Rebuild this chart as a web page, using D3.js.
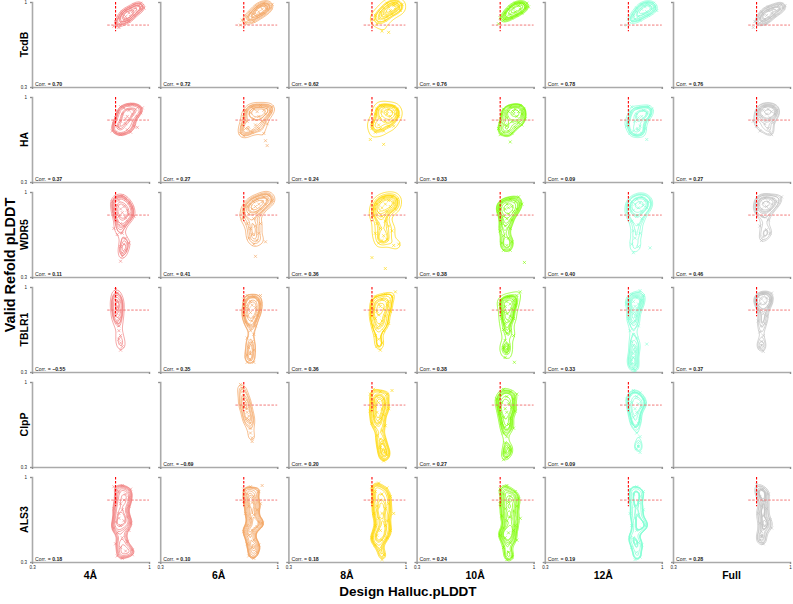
<!DOCTYPE html>
<html><head><meta charset="utf-8">
<script src="https://cdn.jsdelivr.net/npm/d3@7"></script>
<style>body{margin:0;background:#fff}svg{display:block}</style>
</head><body><svg id="c" width="793" height="604"></svg>
<script>
// ---------------- data ----------------
const proteins = ["TcdB","HA","WDR5","TBLR1","ClpP","ALS3"];
const cutoffs = ["4Å","6Å","8Å","10Å","12Å","Full"];
const palette = ["#f08080","#f4a460","#ffd700","#7cfc00","#7fffd4","#c0c0c0"];
const axisTicks = [0.3, 1];
const refDesign = 0.80;   // reference design pLDDT (vertical dashed line)
const refRefold = 0.81;   // reference refold pLDDT (horizontal dashed line)

const corrTcdB = [0.70,0.72,0.62,0.76,0.78,0.76];
const corrHA   = [0.37,0.27,0.24,0.33,0.09,0.27];
const corrWDR5 = [0.11,0.41,0.36,0.38,0.40,0.46];
const corrTBLR1= [-0.55,0.35,0.36,0.38,0.33,0.37];
const corrClpP = [null,-0.69,0.20,0.27,0.09,null];
const corrALS3 = [0.18,0.10,0.18,0.24,0.19,0.28];

const ptsTcdB = [
 [[0.79,0.80],[0.80,0.84],[0.81,0.81],[0.82,0.87],[0.83,0.83],[0.84,0.90],[0.85,0.85],[0.86,0.88],[0.86,0.93],[0.87,0.86],[0.88,0.91],[0.89,0.88],[0.89,0.95],[0.90,0.92],[0.91,0.89],[0.92,0.95],[0.93,0.92],[0.94,0.97],[0.95,0.94],[0.96,0.97],[0.97,0.95],[0.88,0.84],[0.91,0.98],[0.84,0.92],[0.82,0.79],[0.95,0.99]],
 [[0.78,0.81],[0.79,0.85],[0.81,0.83],[0.82,0.88],[0.83,0.85],[0.84,0.91],[0.85,0.87],[0.86,0.90],[0.87,0.94],[0.88,0.88],[0.89,0.92],[0.90,0.96],[0.90,0.90],[0.91,0.94],[0.92,0.91],[0.93,0.97],[0.94,0.94],[0.95,0.98],[0.96,0.95],[0.97,0.98],[0.86,0.84],[0.92,0.99],[0.88,0.96]],
 [[0.81,0.85],[0.82,0.89],[0.84,0.86],[0.85,0.92],[0.86,0.89],[0.87,0.95],[0.88,0.91],[0.89,0.88],[0.90,0.96],[0.91,0.93],[0.92,0.90],[0.93,0.97],[0.94,0.94],[0.95,0.99],[0.96,0.96],[0.97,0.93],[0.98,0.98],[0.89,0.99],[0.86,0.76],[0.90,0.75],[0.83,0.82],[0.93,0.99],[0.88,0.85]],
 [[0.79,0.82],[0.80,0.87],[0.82,0.85],[0.83,0.91],[0.84,0.88],[0.85,0.94],[0.86,0.90],[0.87,0.87],[0.88,0.95],[0.89,0.92],[0.90,0.89],[0.91,0.97],[0.92,0.94],[0.93,0.91],[0.94,0.98],[0.95,0.95],[0.96,0.99],[0.97,0.96],[0.89,0.99],[0.86,0.96],[0.83,0.86],[0.92,0.99]],
 [[0.79,0.81],[0.80,0.86],[0.82,0.84],[0.83,0.89],[0.84,0.86],[0.85,0.92],[0.86,0.88],[0.87,0.85],[0.88,0.94],[0.89,0.90],[0.90,0.96],[0.91,0.92],[0.92,0.89],[0.93,0.97],[0.94,0.94],[0.95,0.99],[0.96,0.96],[0.97,0.93],[0.88,0.98],[0.85,0.95],[0.91,0.99]],
 [[0.78,0.79],[0.79,0.84],[0.81,0.82],[0.82,0.87],[0.83,0.84],[0.84,0.90],[0.85,0.86],[0.86,0.89],[0.87,0.93],[0.88,0.87],[0.89,0.91],[0.90,0.95],[0.91,0.89],[0.92,0.93],[0.93,0.97],[0.94,0.94],[0.95,0.98],[0.96,0.95],[0.97,0.97],[0.87,0.96],[0.83,0.92],[0.86,0.82]]
];
const ptsHA = [
 [[0.78,0.72],[0.79,0.78],[0.80,0.83],[0.81,0.88],[0.82,0.75],[0.83,0.80],[0.84,0.86],[0.85,0.91],[0.85,0.70],[0.86,0.78],[0.87,0.84],[0.88,0.89],[0.88,0.93],[0.89,0.81],[0.90,0.86],[0.91,0.76],[0.92,0.90],[0.93,0.84],[0.94,0.92],[0.95,0.87],[0.96,0.91],[0.87,0.73],[0.83,0.92],[0.90,0.94],[0.86,0.82],[0.80,0.71],[0.83,0.69],[0.89,0.71],[0.93,0.75],[0.81,0.76]],
 [[0.78,0.70],[0.79,0.77],[0.80,0.84],[0.81,0.89],[0.82,0.80],[0.83,0.73],[0.84,0.87],[0.85,0.92],[0.86,0.82],[0.87,0.77],[0.88,0.88],[0.89,0.84],[0.90,0.93],[0.91,0.80],[0.92,0.89],[0.93,0.86],[0.94,0.91],[0.96,0.88],[0.97,0.92],[0.93,0.64],[0.94,0.60],[0.92,0.70],[0.86,0.90],[0.81,0.74],[0.85,0.71],[0.89,0.74],[0.80,0.68],[0.94,0.78]],
 [[0.80,0.74],[0.81,0.80],[0.82,0.86],[0.83,0.90],[0.84,0.77],[0.85,0.83],[0.86,0.88],[0.87,0.92],[0.88,0.80],[0.89,0.86],[0.90,0.90],[0.91,0.84],[0.92,0.88],[0.93,0.92],[0.94,0.86],[0.95,0.90],[0.96,0.84],[0.90,0.76],[0.87,0.72],[0.85,0.93],[0.79,0.65],[0.87,0.61],[0.89,0.88],[0.92,0.80],[0.82,0.71],[0.85,0.74],[0.93,0.76],[0.80,0.78]],
 [[0.79,0.74],[0.80,0.80],[0.81,0.86],[0.82,0.90],[0.83,0.77],[0.84,0.83],[0.85,0.88],[0.86,0.92],[0.87,0.80],[0.88,0.86],[0.89,0.90],[0.90,0.84],[0.91,0.88],[0.92,0.93],[0.93,0.86],[0.94,0.90],[0.95,0.82],[0.89,0.75],[0.85,0.72],[0.80,0.69],[0.86,0.63],[0.88,0.88],[0.91,0.79],[0.82,0.71],[0.87,0.70],[0.93,0.77],[0.84,0.76]],
 [[0.79,0.76],[0.80,0.82],[0.81,0.88],[0.82,0.92],[0.83,0.72],[0.84,0.80],[0.85,0.86],[0.86,0.91],[0.87,0.76],[0.88,0.84],[0.89,0.89],[0.90,0.81],[0.91,0.87],[0.92,0.92],[0.93,0.85],[0.94,0.90],[0.84,0.69],[0.88,0.70],[0.91,0.65],[0.86,0.83],[0.81,0.70],[0.86,0.73],[0.90,0.74],[0.80,0.79]],
 [[0.78,0.80],[0.80,0.86],[0.82,0.90],[0.83,0.84],[0.84,0.89],[0.85,0.92],[0.86,0.86],[0.87,0.90],[0.88,0.83],[0.89,0.88],[0.90,0.92],[0.91,0.86],[0.80,0.76],[0.87,0.74],[0.88,0.71],[0.92,0.89],[0.82,0.72],[0.85,0.78],[0.89,0.69],[0.90,0.79]]
];
const ptsWDR5 = [
 [[0.78,0.92],[0.80,0.96],[0.82,0.93],[0.84,0.97],[0.86,0.94],[0.88,0.91],[0.79,0.86],[0.81,0.89],[0.83,0.86],[0.85,0.88],[0.87,0.85],[0.80,0.82],[0.82,0.80],[0.84,0.83],[0.86,0.79],[0.88,0.82],[0.90,0.87],[0.81,0.76],[0.83,0.74],[0.85,0.72],[0.87,0.76],[0.79,0.70],[0.84,0.66],[0.86,0.62],[0.88,0.58],[0.83,0.55],[0.86,0.52],[0.84,0.47],[0.83,0.43],[0.81,0.65],[0.91,0.80],[0.85,0.57],[0.84,0.50]],
 [[0.79,0.78],[0.80,0.84],[0.82,0.88],[0.83,0.82],[0.84,0.90],[0.85,0.86],[0.86,0.92],[0.87,0.88],[0.88,0.94],[0.89,0.90],[0.90,0.86],[0.91,0.92],[0.92,0.96],[0.93,0.90],[0.94,0.94],[0.95,0.97],[0.88,0.83],[0.86,0.78],[0.82,0.74],[0.84,0.70],[0.87,0.72],[0.90,0.74],[0.85,0.65],[0.89,0.66],[0.83,0.62],[0.88,0.60],[0.93,0.59],[0.87,0.47],[0.86,0.57],[0.97,0.93]],
 [[0.81,0.80],[0.82,0.86],[0.83,0.90],[0.84,0.83],[0.85,0.92],[0.86,0.87],[0.87,0.95],[0.88,0.90],[0.89,0.84],[0.90,0.93],[0.91,0.88],[0.92,0.96],[0.93,0.91],[0.94,0.86],[0.95,0.94],[0.86,0.80],[0.88,0.76],[0.83,0.74],[0.85,0.70],[0.90,0.72],[0.82,0.66],[0.87,0.64],[0.92,0.68],[0.86,0.60],[0.93,0.56],[0.96,0.57],[0.80,0.46],[0.88,0.37],[0.84,0.58],[0.89,0.61]],
 [[0.79,0.84],[0.80,0.88],[0.81,0.92],[0.82,0.80],[0.83,0.86],[0.84,0.90],[0.85,0.82],[0.86,0.94],[0.87,0.88],[0.88,0.84],[0.89,0.92],[0.90,0.86],[0.91,0.96],[0.93,0.90],[0.84,0.78],[0.87,0.77],[0.81,0.74],[0.83,0.72],[0.86,0.70],[0.80,0.68],[0.82,0.64],[0.85,0.62],[0.81,0.58],[0.84,0.56],[0.87,0.59],[0.82,0.52],[0.86,0.52],[0.945,0.42],[0.85,0.87]],
 [[0.80,0.82],[0.81,0.88],[0.82,0.92],[0.83,0.85],[0.84,0.90],[0.85,0.94],[0.86,0.87],[0.87,0.91],[0.88,0.84],[0.89,0.89],[0.90,0.93],[0.91,0.87],[0.92,0.92],[0.85,0.80],[0.88,0.78],[0.82,0.76],[0.86,0.73],[0.83,0.68],[0.87,0.66],[0.84,0.62],[0.82,0.57],[0.86,0.55],[0.83,0.50],[0.93,0.54],[0.88,0.96]],
 [[0.80,0.84],[0.81,0.90],[0.82,0.94],[0.83,0.86],[0.84,0.91],[0.85,0.95],[0.86,0.88],[0.87,0.92],[0.88,0.85],[0.89,0.90],[0.90,0.94],[0.92,0.92],[0.84,0.80],[0.87,0.77],[0.82,0.72],[0.86,0.69],[0.84,0.63],[0.88,0.66],[0.83,0.60],[0.95,0.96]]
];
const ptsTBLR1 = [
 [[0.80,0.98],[0.81,0.95],[0.80,0.92],[0.81,0.89],[0.80,0.86],[0.81,0.83],[0.82,0.80],[0.81,0.78],[0.80,0.76],[0.82,0.74],[0.81,0.71],[0.82,0.68],[0.82,0.64],[0.83,0.60],[0.82,0.57],[0.83,0.54],[0.84,0.51],[0.83,0.48],[0.81,0.84],[0.82,0.88]],
 [[0.80,0.90],[0.82,0.93],[0.84,0.88],[0.86,0.92],[0.88,0.89],[0.90,0.86],[0.81,0.84],[0.83,0.82],[0.85,0.85],[0.87,0.83],[0.89,0.80],[0.80,0.78],[0.82,0.76],[0.84,0.79],[0.86,0.75],[0.88,0.77],[0.81,0.71],[0.83,0.69],[0.85,0.72],[0.87,0.68],[0.84,0.64],[0.86,0.61],[0.82,0.58],[0.85,0.55],[0.83,0.50],[0.86,0.48],[0.82,0.44],[0.84,0.40],[0.82,0.38],[0.86,0.38],[0.90,0.93],[0.84,0.53],[0.84,0.45]],
 [[0.80,0.88],[0.82,0.92],[0.84,0.86],[0.86,0.90],[0.88,0.94],[0.90,0.88],[0.92,0.92],[0.81,0.82],[0.83,0.80],[0.85,0.84],[0.87,0.82],[0.89,0.85],[0.91,0.80],[0.80,0.76],[0.82,0.74],[0.84,0.77],[0.86,0.72],[0.88,0.76],[0.81,0.68],[0.83,0.66],[0.85,0.69],[0.87,0.64],[0.82,0.60],[0.84,0.57],[0.86,0.54],[0.83,0.51],[0.85,0.48],[0.90,0.70],[0.94,0.96]],
 [[0.80,0.86],[0.81,0.90],[0.83,0.84],[0.84,0.88],[0.85,0.92],[0.86,0.86],[0.87,0.82],[0.88,0.89],[0.89,0.85],[0.90,0.93],[0.82,0.80],[0.84,0.78],[0.86,0.76],[0.81,0.74],[0.83,0.70],[0.85,0.72],[0.88,0.74],[0.82,0.65],[0.84,0.62],[0.86,0.64],[0.88,0.60],[0.83,0.56],[0.85,0.52],[0.82,0.50],[0.84,0.46],[0.83,0.42],[0.885,0.38],[0.92,0.96],[0.84,0.49]],
 [[0.79,0.86],[0.80,0.90],[0.82,0.94],[0.83,0.88],[0.84,0.84],[0.85,0.91],[0.86,0.86],[0.87,0.82],[0.88,0.89],[0.89,0.93],[0.81,0.80],[0.83,0.78],[0.85,0.76],[0.80,0.74],[0.82,0.70],[0.84,0.72],[0.86,0.68],[0.81,0.64],[0.83,0.61],[0.85,0.58],[0.82,0.55],[0.84,0.50],[0.83,0.45],[0.82,0.40],[0.84,0.36],[0.83,0.33],[0.91,0.53],[0.87,0.97],[0.83,0.52],[0.84,0.47],[0.83,0.42],[0.82,0.37],[0.84,0.31]],
 [[0.80,0.88],[0.81,0.92],[0.82,0.86],[0.83,0.90],[0.84,0.94],[0.85,0.87],[0.86,0.91],[0.87,0.84],[0.88,0.89],[0.82,0.80],[0.84,0.78],[0.86,0.76],[0.81,0.72],[0.83,0.68],[0.85,0.70],[0.82,0.63],[0.84,0.60],[0.83,0.55],[0.82,0.50],[0.84,0.47],[0.89,0.95],[0.83,0.52]]
];
const ptsClpP = [
 [],
 [[0.78,0.98],[0.79,0.95],[0.79,0.92],[0.80,0.89],[0.80,0.86],[0.81,0.84],[0.81,0.81],[0.82,0.78],[0.82,0.75],[0.83,0.72],[0.83,0.69],[0.84,0.66],[0.84,0.62],[0.84,0.58],[0.85,0.54],[0.85,0.51],[0.80,0.80],[0.82,0.70]],
 [[0.79,0.90],[0.81,0.94],[0.83,0.88],[0.85,0.92],[0.87,0.86],[0.89,0.90],[0.92,0.93],[0.80,0.84],[0.82,0.80],[0.84,0.83],[0.86,0.78],[0.88,0.82],[0.90,0.78],[0.79,0.76],[0.81,0.72],[0.83,0.75],[0.85,0.70],[0.87,0.73],[0.80,0.66],[0.82,0.63],[0.84,0.67],[0.86,0.60],[0.88,0.64],[0.83,0.56],[0.87,0.52],[0.85,0.46],[0.88,0.42],[0.86,0.38],[0.87,0.35],[0.89,0.40],[0.86,0.49],[0.87,0.44],[0.85,0.53]],
 [[0.78,0.86],[0.80,0.90],[0.82,0.94],[0.84,0.88],[0.86,0.92],[0.88,0.86],[0.90,0.90],[0.79,0.80],[0.81,0.83],[0.83,0.78],[0.85,0.82],[0.87,0.79],[0.89,0.76],[0.80,0.74],[0.82,0.71],[0.84,0.75],[0.86,0.70],[0.81,0.66],[0.83,0.63],[0.85,0.65],[0.88,0.62],[0.82,0.58],[0.84,0.55],[0.83,0.50],[0.85,0.46],[0.83,0.42],[0.84,0.38],[0.86,0.44],[0.82,0.36]],
 [[0.79,0.86],[0.81,0.90],[0.83,0.93],[0.85,0.88],[0.87,0.91],[0.89,0.86],[0.80,0.80],[0.82,0.83],[0.84,0.78],[0.86,0.82],[0.88,0.79],[0.90,0.82],[0.81,0.74],[0.83,0.71],[0.85,0.75],[0.87,0.70],[0.82,0.66],[0.84,0.63],[0.86,0.66],[0.85,0.58],[0.87,0.55],[0.86,0.50],[0.85,0.45],[0.87,0.42],[0.86,0.47]],
 []
];
const ptsALS3 = [
 [[0.79,0.92],[0.82,0.88],[0.84,0.93],[0.86,0.86],[0.89,0.90],[0.80,0.82],[0.83,0.78],[0.85,0.81],[0.88,0.76],[0.79,0.74],[0.82,0.70],[0.84,0.73],[0.87,0.67],[0.80,0.63],[0.83,0.60],[0.85,0.64],[0.88,0.56],[0.81,0.54],[0.84,0.50],[0.87,0.47],[0.80,0.45],[0.83,0.42],[0.86,0.39],[0.81,0.35],[0.84,0.33],[0.90,0.40],[0.90,0.36],[0.88,0.83],[0.82,0.66],[0.89,0.62],[0.79,0.58]],
 [[0.80,0.90],[0.82,0.86],[0.84,0.92],[0.86,0.84],[0.89,0.88],[0.91,0.93],[0.80,0.80],[0.83,0.76],[0.85,0.79],[0.88,0.73],[0.90,0.78],[0.81,0.70],[0.84,0.66],[0.86,0.69],[0.89,0.63],[0.82,0.60],[0.85,0.56],[0.88,0.59],[0.83,0.52],[0.86,0.48],[0.82,0.45],[0.85,0.42],[0.88,0.38],[0.83,0.35],[0.86,0.33],[0.91,0.62],[0.89,0.44],[0.80,0.55]],
 [[0.80,0.92],[0.82,0.88],[0.84,0.95],[0.86,0.86],[0.89,0.91],[0.91,0.84],[0.80,0.80],[0.83,0.76],[0.85,0.81],[0.88,0.74],[0.90,0.78],[0.81,0.70],[0.84,0.66],[0.86,0.70],[0.89,0.64],[0.82,0.60],[0.85,0.56],[0.88,0.60],[0.83,0.52],[0.86,0.48],[0.89,0.50],[0.82,0.44],[0.85,0.40],[0.87,0.36],[0.86,0.32],[0.93,0.70],[0.91,0.56],[0.80,0.50]],
 [[0.80,0.90],[0.82,0.86],[0.84,0.93],[0.86,0.84],[0.89,0.88],[0.91,0.82],[0.80,0.78],[0.83,0.74],[0.85,0.79],[0.88,0.72],[0.90,0.76],[0.81,0.68],[0.84,0.64],[0.86,0.67],[0.89,0.60],[0.82,0.58],[0.85,0.54],[0.88,0.56],[0.83,0.50],[0.86,0.46],[0.82,0.42],[0.85,0.38],[0.87,0.34],[0.84,0.32],[0.92,0.66],[0.90,0.48],[0.80,0.52]],
 [[0.81,0.90],[0.83,0.86],[0.85,0.92],[0.87,0.84],[0.89,0.88],[0.81,0.80],[0.84,0.76],[0.86,0.79],[0.89,0.73],[0.81,0.70],[0.84,0.66],[0.86,0.69],[0.89,0.63],[0.82,0.60],[0.85,0.56],[0.88,0.58],[0.83,0.50],[0.86,0.46],[0.82,0.42],[0.85,0.38],[0.87,0.34],[0.84,0.32],[0.90,0.60],[0.81,0.50],[0.88,0.44]],
 [[0.80,0.94],[0.81,0.88],[0.82,0.84],[0.84,0.90],[0.85,0.80],[0.83,0.76],[0.86,0.74],[0.81,0.70],[0.84,0.68],[0.82,0.62],[0.85,0.60],[0.83,0.55],[0.88,0.65],[0.89,0.58],[0.82,0.48],[0.84,0.45],[0.87,0.86],[0.83,0.51]]
];

const allPts  = [ptsTcdB, ptsHA, ptsWDR5, ptsTBLR1, ptsClpP, ptsALS3];
const allCorr = [corrTcdB, corrHA, corrWDR5, corrTBLR1, corrClpP, corrALS3];

// ---------------- layout ----------------
const svg = d3.select("#c");
const left0 = 32, pitchX = 128.2, W = 117;
const top0 = 2, pitchY = 95, H = 85;
const font = "'Liberation Sans', Arial, sans-serif";
const massLevels = [0.05, 0.155, 0.26, 0.365, 0.47, 0.575, 0.68, 0.785, 0.89];
const bw = 5;
const fmt = d3.format(".2f");

const xs = d3.scaleLinear().domain([0.3, 1]).range([0, W]);
const ys = d3.scaleLinear().domain([0.3, 1]).range([H, 0]);

const defs = svg.append("defs");
defs.append("clipPath").attr("id","pclip").append("rect")
  .attr("x",-1).attr("y",-2).attr("width",W+2).attr("height",H+2);

// density at each sample (gaussian KDE in pixel space, same units as d3.contourDensity)
function kdeAtPoints(P) {
  const k = 1 / (2 * Math.PI * bw * bw);
  return P.map(([xi, yi]) => d3.sum(P, ([xj, yj]) =>
    k * Math.exp(-((xi - xj) ** 2 + (yi - yj) ** 2) / (2 * bw * bw))));
}

proteins.forEach((prot, r) => {
  cutoffs.forEach((cut, c) => {
    const gx = left0 + c*pitchX, gy = top0 + r*pitchY;
    const g = svg.append("g").attr("transform", `translate(${gx},${gy})`);
    const pts = allPts[r][c];
    const color = palette[c];
    const corr = allCorr[r][c];

    // axes
    const yAx = g.append("g").call(d3.axisLeft(ys).tickValues(axisTicks).tickSize(2)
        .tickFormat(c === 0 ? d3.format("") : ""));
    const xAx = g.append("g").attr("transform",`translate(0,${H})`)
        .call(d3.axisBottom(xs).tickValues(axisTicks).tickSize(2)
        .tickFormat(r === proteins.length-1 ? d3.format("") : ""));
    [yAx, xAx].forEach(a => {
      a.select(".domain").attr("stroke","#aaa").attr("stroke-width",1.6);
      a.selectAll(".tick line").attr("stroke","#888").attr("stroke-width",0.8);
      a.selectAll(".tick text").attr("font-size",4.5).attr("font-family",font).attr("fill","#222");
    });
    yAx.selectAll(".tick text").attr("x",-5);
    xAx.selectAll(".tick text").attr("y",4);

    if (!pts.length) return;

    const plot = g.append("g").attr("clip-path","url(#pclip)");

    // density contours at iso-proportion levels
    const pix = pts.map(d => [xs(d[0]), ys(d[1])]);
    const fv = kdeAtPoints(pix).sort(d3.ascending);
    const levels = Array.from(new Set(massLevels.map(p => d3.quantileSorted(fv, p))));
    const pad = 16;
    const dens = d3.contourDensity()
      .x(d => d[0] + pad).y(d => d[1] + pad)
      .size([W + 2*pad, H + 2*pad]).cellSize(1).bandwidth(bw)
      .thresholds(levels);
    const contours = dens(pix);
    plot.append("g").attr("transform",`translate(${-pad},${-pad})`)
      .selectAll("path").data(contours).join("path")
      .attr("d", d3.geoPath()).attr("fill","none")
      .attr("stroke", color).attr("stroke-width", 0.7);

    // points
    plot.append("g").selectAll("path").data(pts).join("path")
      .attr("transform", d => `translate(${xs(d[0])},${ys(d[1])})`)
      .attr("d","M-1.5,-1.5L1.5,1.5M-1.5,1.5L1.5,-1.5")
      .attr("stroke", color).attr("stroke-width", 0.6).attr("fill","none");

    // reference lines
    plot.append("line")
      .attr("x1", xs(refDesign - 0.05)).attr("x2", xs(1))
      .attr("y1", ys(refRefold)).attr("y2", ys(refRefold))
      .attr("stroke","#f26b6b").attr("stroke-width",0.9).attr("stroke-dasharray","2.5,1.5");
    plot.append("line")
      .attr("x1", xs(refDesign)).attr("x2", xs(refDesign))
      .attr("y1", ys(1)).attr("y2", ys(refRefold - 0.05))
      .attr("stroke","#ff0000").attr("stroke-width",1.1).attr("stroke-dasharray","2.5,1.5");

    // correlation text
    const t = g.append("text").attr("x",3).attr("y",H-1.5)
      .attr("font-family",font).attr("font-size",5.2).attr("fill","#222");
    t.append("tspan").text("Corr. = ");
    t.append("tspan").attr("font-weight","bold").text(fmt(corr));
  });
  // row label
  const cy = top0 + r*pitchY + H/2;
  svg.append("text").attr("transform",`translate(28,${cy}) rotate(-90)`)
    .attr("text-anchor","middle").attr("font-family",font).attr("font-weight","bold")
    .attr("font-size",10.5).attr("fill","#000").text(prot);
});

// column labels
cutoffs.forEach((cut, c) => {
  svg.append("text").attr("x", left0 + c*pitchX + W/2).attr("y", 579)
    .attr("text-anchor","middle").attr("font-family",font).attr("font-weight","bold")
    .attr("font-size",10.5).attr("fill","#000").text(cut);
});

// axis titles
svg.append("text").attr("x", 408).attr("y", 596)
  .attr("text-anchor","middle").attr("font-family",font).attr("font-weight","bold")
  .attr("font-size",13.5).attr("fill","#000").text("Design Halluc.pLDDT");
svg.append("text").attr("transform","translate(15,265) rotate(-90)")
  .attr("text-anchor","middle").attr("font-family",font).attr("font-weight","bold")
  .attr("font-size",14.5).attr("fill","#000").text("Valid Refold pLDDT");
</script></body></html>
